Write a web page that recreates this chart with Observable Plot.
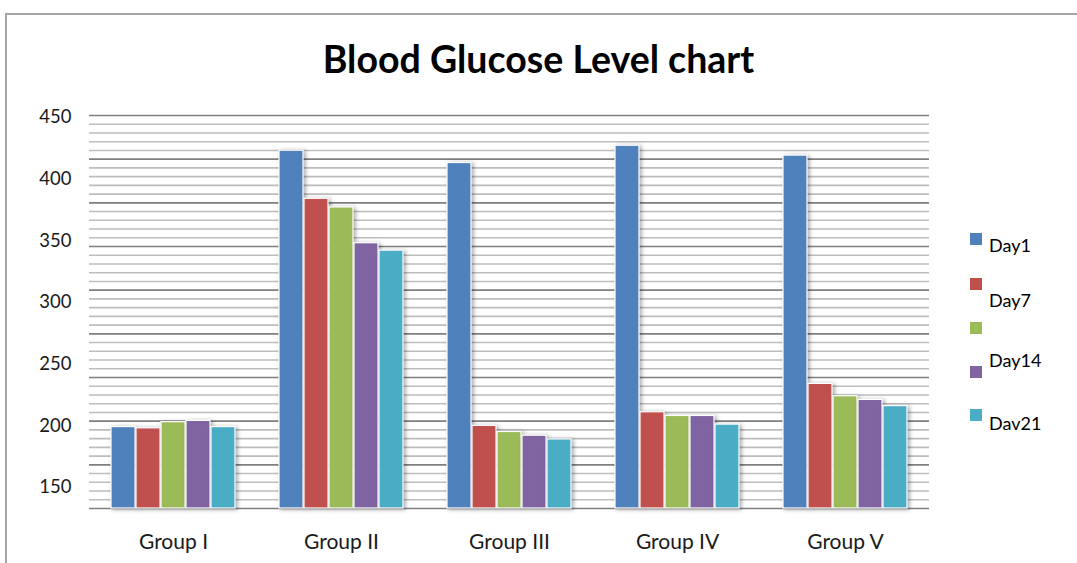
<!DOCTYPE html>
<html>
<head>
<meta charset="utf-8">
<script src="https://cdn.jsdelivr.net/npm/d3@7"></script>
<script src="https://cdn.jsdelivr.net/npm/@observablehq/plot@0.6"></script>
<style>
  html, body { margin: 0; padding: 0; background: #fff; }
  #wrap { position: relative; width: 1077px; height: 563px; overflow: hidden; font-family: Lato, "Open Sans", sans-serif; }
  #frame { position: absolute; left: 5px; top: 13px; width: 1090px; height: 600px; border-top: 2px solid #a6a6a6; border-left: 2px solid #a6a6a6; box-sizing: border-box; }
  #title { position: absolute; left: 0; width: 1077px; top: 36px; text-align: center; font-weight: bold; font-size: 37.5px; color: #000; }
  #chart { position: absolute; left: 0; top: 0; }
  .leg { position: absolute; font-size: 18px; color: #000; }
  .sw { position: absolute; width: 12px; height: 12px; }
  g[aria-label="bar"] rect { filter: drop-shadow(2px 1px 2px rgba(0,0,0,0.35)); }
</style>
</head>
<body>
<div id="wrap">
  <div id="frame"></div>
  <div id="chart"></div>
  <div id="title">Blood Glucose Level chart</div>
</div>
<script>
// ---- data ----
const groups = ["Group I", "Group II", "Group III", "Group IV", "Group V"];
const seriesKeys = ["s1", "s2", "s3", "s4", "s5"];
const legendLabels = ["Day1", "Day7", "", "Day14", "Dav21"];
const day1  = [199, 423, 413, 427, 419];
const day7  = [198, 384, 200, 211, 234];
const s3    = [203, 377, 195, 208, 224];
const day14 = [204, 348, 192, 208, 221];
const dav21 = [199, 342, 189, 201, 216];
const yTicks = [150, 200, 250, 300, 350, 400, 450];
const colors = ["#4F81BD", "#C0504D", "#9BBB59", "#8064A2", "#4BACC6"];

const seriesValues = [day1, day7, s3, day14, dav21];
const data = [];
groups.forEach((g, gi) => seriesKeys.forEach((s, si) => data.push({group: g, series: s, value: seriesValues[si][gi]})));

const yMin = 133, yMax = 451.5;
// gridlines: 9 major divisions, each split in 5 minor (as drawn in the original)
const grid = d3.range(0, 46).map(i => ({v: yMin + i * (yMax - yMin) / 45, major: i % 5 === 0}));

const plot = Plot.plot({
  width: 1077,
  height: 563,
  marginTop: 115,
  marginBottom: 55,
  marginLeft: 88,
  marginRight: 147,
  style: {fontFamily: "Lato, 'Open Sans', sans-serif", fontSize: "18px", background: "transparent", color: "#1a1a1a"},
  fx: {domain: groups, padding: 0},
  x: {domain: seriesKeys, paddingInner: 0.04, paddingOuter: 0.85},
  y: {domain: [yMin, yMax]},
  color: {domain: seriesKeys, range: colors},
  marks: [
    Plot.ruleY(grid.filter(d => !d.major), {y: "v", stroke: "#bdbdbd", strokeWidth: 1.6}),
    Plot.ruleY(grid.filter(d => d.major), {y: "v", stroke: "#7f7f7f", strokeWidth: 1.6}),
    Plot.barY(data, {fx: "group", x: "series", y1: yMin, y2: "value", fill: "series", stroke: "#ffffff", strokeWidth: 1.2}),
    Plot.axisY({ticks: yTicks, tickSize: 0, tickPadding: 18, label: null, line: true, stroke: "#8c8c8c", fill: "#1a1a1a", fontSize: 18.5}),
    Plot.axisFx({anchor: "bottom", tickSize: 0, tickPadding: 26, label: null, fill: "#1a1a1a", fontSize: 21}),
    Plot.axisX({ticks: [], label: null})
  ]
});
document.getElementById("chart").appendChild(plot);

// legend (positions as in the original layout)
const wrap = document.getElementById("wrap");
const swatchTops = [233, 278, 322, 366, 409];
const labelTops = [234, 289, null, 349, 412];
colors.forEach((c, i) => {
  const sw = document.createElement("div");
  sw.className = "sw";
  sw.style.left = "970px";
  sw.style.top = swatchTops[i] + "px";
  sw.style.background = c;
  wrap.appendChild(sw);
  if (legendLabels[i]) {
    const t = document.createElement("div");
    t.className = "leg";
    t.style.left = "989px";
    t.style.top = labelTops[i] + "px";
    t.textContent = legendLabels[i];
    wrap.appendChild(t);
  }
});
</script>
</body>
</html>
